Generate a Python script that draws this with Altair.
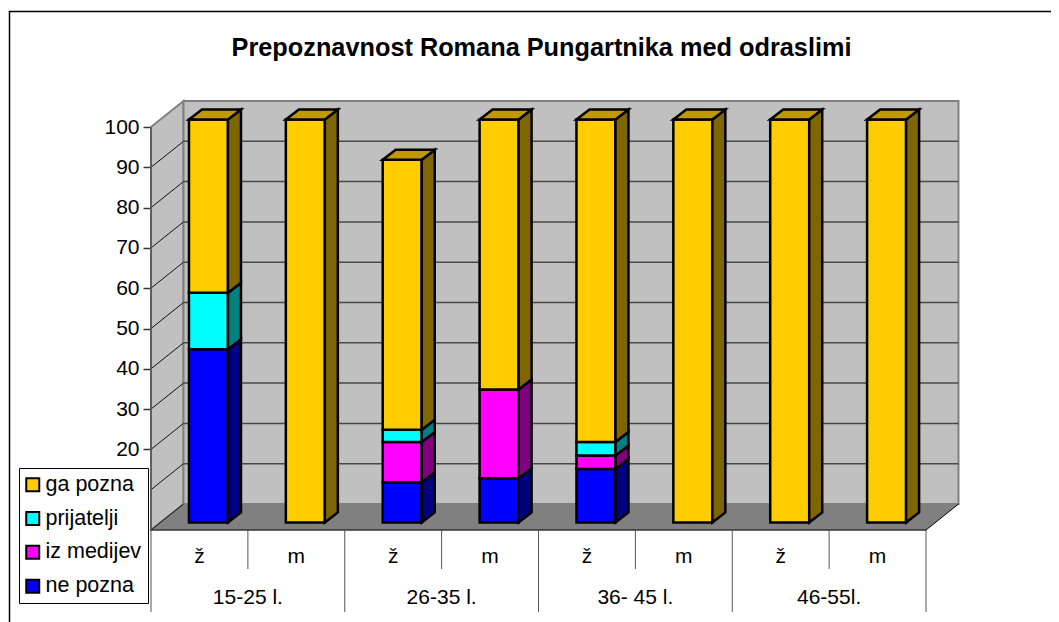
import altair as alt
import pandas as pd

groups = ["15-25 l.", "26-35 l.", "36- 45 l.", "46-55l."]
sexes = ["ž", "m"]
series = ["ne pozna", "iz medijev", "prijatelji", "ga pozna"]
legend_order = ["ga pozna", "prijatelji", "iz medijev", "ne pozna"]
ne_pozna = [43, 0, 10, 11, 13.3, 0, 0, 0]
iz_medijev = [0, 0, 10, 22, 3.3, 0, 0, 0]
prijatelji = [14, 0, 3, 0, 3.4, 0, 0, 0]
ga_pozna = [43, 100, 67, 67, 80, 100, 100, 100]
front_colors = ["#0000FF", "#FF00FF", "#00FFFF", "#FFCC00"]
side_colors = ["#000080", "#800080", "#008080", "#806600"]
top_colors = ["#0000C0", "#C000C0", "#00C0C0", "#C09900"]
ticks = list(range(0, 101, 10))
tick_labels = ticks[2:]        # 0 and 10 lie behind the legend box in the reference

FONT = "Liberation Sans"
W, H = 1043, 614
UX, UY = 96.875, 4.03          # px per category / per value unit
X0, Y0 = 143.0, 522.0          # plot-area px of category 0 / value 0
WALL_DX, WALL_DV = 32.5 / UX, 26 / UY
BAR_L, BAR_W = 0.392, 39 / UX
BAR_DX, BAR_DV = 13 / UX, 10 / UY
BAR_SHIFT_V = 7.5 / UY

xs = alt.Scale(domain=[-X0 / UX, (W - X0) / UX], range=[0, W], nice=False, zero=False)
ys = alt.Scale(domain=[(Y0 - H) / UY, Y0 / UY], range=[H, 0], nice=False, zero=False)

y_axis = alt.Axis(
    values=tick_labels, orient="left", offset=-X0, domain=False, grid=False, tickSize=8, tickColor="#333333",
    tickWidth=1.5, labelFontSize=21, labelFont=FONT, labelColor="black", labelPadding=4, title=None,
)


def X(f="x"):
    return alt.X(f"{f}:Q", scale=xs, axis=None, title=None)


def Y(f="y"):
    return alt.Y(f"{f}:Q", scale=ys, axis=y_axis, title=None, stack=None)


N = len(ga_pozna)
values = [ne_pozna, iz_medijev, prijatelji, ga_pozna]
fronts, sides, tops = [], [], []
for i in range(N):
    base = 0.0
    xl = i + BAR_L
    xr = xl + BAR_W
    for k, name in enumerate(series):
        v = values[k][i]
        if v <= 0:
            continue
        lo = base + BAR_SHIFT_V
        hi = lo + v
        base += v
        fronts.append(dict(x=xl, x2=xr, y=lo, y2=hi, series=name))
        pid = f"{i}-{k}"
        sides.append(dict(id=pid, x=xr, y=lo, y2=hi, fill=side_colors[k]))
        sides.append(dict(id=pid, x=xr + BAR_DX, y=lo + BAR_DV, y2=hi + BAR_DV, fill=side_colors[k]))
        last_k = k
        last_hi = hi
    pid = f"{i}"
    tops.append(dict(id=pid, y=last_hi, x=xl, x2=xr, fill=top_colors[last_k]))
    tops.append(dict(id=pid, y=last_hi + BAR_DV, x=xl + BAR_DX, x2=xr + BAR_DX, fill=top_colors[last_k]))

WALL_STROKE = "#808080"
GRID = "#4a4a4a"

# walls and floor
back = alt.Chart(pd.DataFrame([dict(x=WALL_DX, x2=N + WALL_DX, y=WALL_DV, y2=100 + WALL_DV)])).mark_rect(
    fill="#C0C0C0", stroke=WALL_STROKE, strokeWidth=2
).encode(x=X(), x2="x2:Q", y=Y(), y2="y2:Q")

left_wall = alt.Chart(pd.DataFrame([dict(x=0, y=0, y2=100), dict(x=WALL_DX, y=WALL_DV, y2=100 + WALL_DV)])).mark_area(
    fill="#C0C0C0", stroke=WALL_STROKE, strokeWidth=2
).encode(x=X(), y=Y(), y2="y2:Q")

floor = alt.Chart(pd.DataFrame([dict(y=0, x=0, x2=N), dict(y=WALL_DV, x=WALL_DX, x2=N + WALL_DX)])).mark_area(
    orient="horizontal", fill="#808080"
).encode(y=Y(), x=X(), x2="x2:Q")

floor_edge = alt.Chart(pd.DataFrame([dict(x=N, y=0), dict(x=N + WALL_DX, y=WALL_DV)])).mark_line(
    color="black", strokeWidth=1
).encode(x=X(), y=Y())

grid_back = alt.Chart(pd.DataFrame([dict(x=WALL_DX, x2=N + WALL_DX, y=t + WALL_DV) for t in ticks[1:-1]])).mark_rule(
    color=GRID, strokeWidth=1.5
).encode(x=X(), x2="x2:Q", y=Y())

diag_rows = []
for t in ticks[:-1]:
    diag_rows.append(dict(id=t, x=0, y=t))
    diag_rows.append(dict(id=t, x=WALL_DX, y=t + WALL_DV))
grid_side = alt.Chart(pd.DataFrame(diag_rows)).mark_line(color="#111111", strokeWidth=1).encode(
    x=X(), y=Y(), detail="id:N"
)

axis_line = alt.Chart(pd.DataFrame([dict(x=0, y=0, y2=100)])).mark_rule(color="#555555", strokeWidth=1.5).encode(
    x=X(), y=Y(), y2="y2:Q"
)
base_line = alt.Chart(pd.DataFrame([dict(x=0, x2=N, y=0)])).mark_rule(color="#333333", strokeWidth=1.5).encode(
    x=X(), x2="x2:Q", y=Y()
)

# category separators, in value units below the floor
sep_rows = []
for c in range(N + 1):
    sep_rows.append(dict(x=c, y=0, y2=(-82 if c % 2 == 0 else -39) / UY))
seps = alt.Chart(pd.DataFrame(sep_rows)).mark_rule(color="#555555", strokeWidth=1).encode(
    x=X(), y=Y(), y2="y2:Q"
)

sub_rows = [dict(x=i + 0.5, y=-33 / UY, t=sexes[i % 2]) for i in range(N)]
sub_labels = alt.Chart(pd.DataFrame(sub_rows)).mark_text(
    font=FONT, fontSize=21, color="black", baseline="alphabetic"
).encode(x=X(), y=Y(), text="t:N")

grp_rows = [dict(x=2 * i + 1, y=-74 / UY, t=g) for i, g in enumerate(groups)]
grp_labels = alt.Chart(pd.DataFrame(grp_rows)).mark_text(
    font=FONT, fontSize=21, color="black", baseline="alphabetic"
).encode(x=X(), y=Y(), text="t:N")

# bars
bar_side = alt.Chart(pd.DataFrame(sides)).mark_area(stroke="black", strokeWidth=2.5, strokeJoin="miter").encode(
    x=X(), y=Y(), y2="y2:Q", detail="id:N", fill=alt.Fill("fill:N", scale=None, legend=None)
)
bar_top = alt.Chart(pd.DataFrame(tops)).mark_area(
    orient="horizontal", stroke="black", strokeWidth=2.5, strokeJoin="miter"
).encode(y=Y(), x=X(), x2="x2:Q", detail="id:N", fill=alt.Fill("fill:N", scale=None, legend=None))
bar_front = alt.Chart(pd.DataFrame(fronts)).mark_rect(stroke="black", strokeWidth=2.5).encode(
    x=X(),
    x2="x2:Q",
    y=Y(),
    y2="y2:Q",
    color=alt.Color(
        "series:N",
        scale=alt.Scale(domain=legend_order, range=[front_colors[series.index(s)] for s in legend_order]),
        sort=legend_order,
        legend=alt.Legend(
            orient="none", legendX=11, legendY=460, title=None, fillColor="white", strokeColor="black",
            padding=6, rowPadding=10.8, labelFont=FONT, labelFontSize=21.5, labelColor="black", labelOffset=2,
            symbolType="square", symbolSize=169, symbolStrokeColor="black", symbolStrokeWidth=2, symbolOpacity=1,
            symbolOffset=-3,
        ),
    ),
)

# outer frame
frame_top = alt.Chart(pd.DataFrame([dict(a=0)])).mark_rule(color="black", strokeWidth=1.5).encode(
    x=alt.value(1), x2=alt.value(W), y=alt.value(3.5)
)
frame_left = alt.Chart(pd.DataFrame([dict(a=0)])).mark_rule(color="black", strokeWidth=1.5).encode(
    x=alt.value(1.5), y=alt.value(3), y2=alt.value(H)
)

chart = alt.layer(
    left_wall, back, floor, grid_back, grid_side, axis_line, base_line, floor_edge, seps,
    sub_labels, grp_labels, bar_front, bar_side, bar_top, frame_top, frame_left,
).properties(
    width=W,
    height=H,
    padding=0,
    autosize=alt.AutoSizeParams(type="none"),
    background="white",
    title=alt.TitleParams(
        "Prepoznavnost Romana Pungartnika med odraslimi",
        orient="top", anchor="middle", offset=-53, dx=12, font=FONT, fontSize=25.3, fontWeight="bold", color="black",
    ),
).configure_view(stroke=None)

chart.save("out.html", embed_options={"renderer": "svg", "actions": False})
